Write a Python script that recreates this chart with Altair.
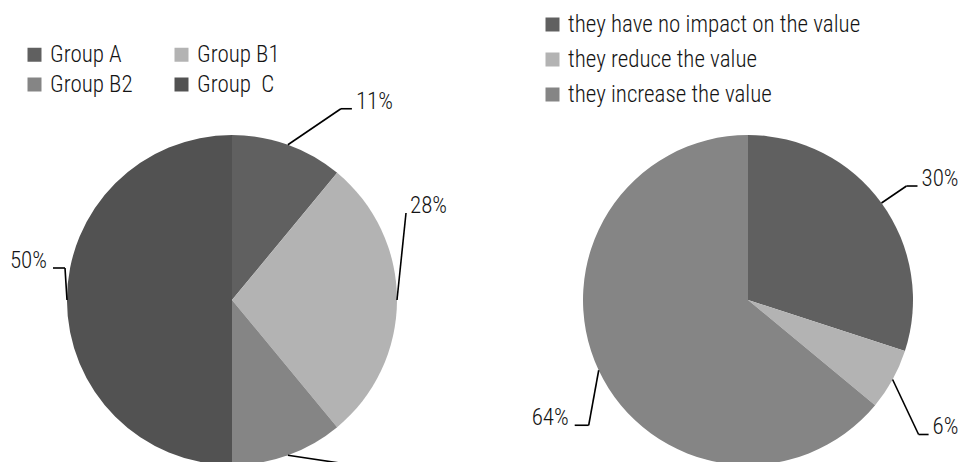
import altair as alt
import pandas as pd

# ---- data -------------------------------------------------------------
left_groups = ["Group A", "Group B1", "Group B2", "Group \u00a0C"]
left_shares = [11, 28, 11, 50]
left_colors = ["#606060", "#b3b3b3", "#858585", "#525252"]
# legend entries fill column by column: A / B2 on the left, B1 / C on the right
left_legend_order = ["Group A", "Group B2", "Group B1", "Group \u00a0C"]

right_groups = [
    "they have no impact on the value",
    "they reduce the value",
    "they increase the value",
]
right_shares = [30, 6, 64]
right_colors = ["#606060", "#b3b3b3", "#858585"]

# ---- callout styling: elbow offset from the slice rim and tail length ----
left_elbow_dx = [53, 9, 200, -2]
left_elbow_dy = [-36, -87, 30, -32]
left_tail = [11, 0, 10, 12]

right_elbow_dx = [25, 26, -10]
right_elbow_dy = [-17, 55, 55]
right_tail = [11, 10, 14]

# ---- layout -------------------------------------------------------------
W, H = 963, 462
R = 165
CY = 300
CX_LEFT, CX_RIGHT = 232, 748
FONT = "Roboto Condensed, Roboto"
FONT_SIZE = 23
TEXT_COLOR = "#141414"


def frame(groups, shares, dx, dy, tail):
    return pd.DataFrame({
        "group": groups,
        "share": shares,
        "idx": list(range(len(groups))),
        "edx": dx,
        "edy": dy,
        "tail": tail,
    })


left_df = frame(left_groups, left_shares, left_elbow_dx, left_elbow_dy, left_tail)
right_df = frame(right_groups, right_shares, right_elbow_dx, right_elbow_dy, right_tail)


def pie(df, cx, domain, colors, legend):
    return alt.Chart(df).mark_arc(outerRadius=R).encode(
        theta=alt.Theta("share:Q", stack=True),
        order=alt.Order("idx:Q"),
        color=alt.Color("group:N",
                        scale=alt.Scale(domain=domain, range=colors),
                        legend=legend),
        x=alt.value(cx),
        y=alt.value(CY),
    )


def callouts(df, cx):
    base = (
        alt.Chart(df)
        .transform_joinaggregate(total="sum(share)")
        .transform_window(cum="sum(share)", sort=[alt.SortField("idx")])
        .transform_calculate(mid="2*PI*(datum.cum - datum.share/2)/datum.total")
        .transform_calculate(
            xr=f"{cx} + {R}*sin(datum.mid)",
            yr=f"{CY} - {R}*cos(datum.mid)",
            side="datum.mid < PI ? 1 : -1",
            label="datum.share + '%'",
        )
        .transform_calculate(xe="datum.xr + datum.edx", ye="datum.yr + datum.edy")
        .transform_calculate(xt="datum.xe + datum.side*datum.tail")
    )
    px = lambda f: alt.X(f, scale=None, axis=None)
    py = lambda f: alt.Y(f, scale=None, axis=None)
    leg1 = base.mark_rule(color="black", strokeWidth=1.6).encode(
        x=px("xr:Q"), y=py("yr:Q"), x2="xe:Q", y2="ye:Q")
    leg2 = base.mark_rule(color="black", strokeWidth=1.6).encode(
        x=px("xe:Q"), y=py("ye:Q"), x2="xt:Q", y2="ye:Q")
    txt_r = base.transform_filter("datum.side > 0").mark_text(
        align="left", baseline="alphabetic", dx=4,
        font=FONT, fontSize=FONT_SIZE, fontWeight=300, color=TEXT_COLOR,
    ).encode(x=px("xt:Q"), y=py("ye:Q"), text="label:N")
    txt_l = base.transform_filter("datum.side < 0").mark_text(
        align="right", baseline="alphabetic", dx=-6,
        font=FONT, fontSize=FONT_SIZE, fontWeight=300, color=TEXT_COLOR,
    ).encode(x=px("xt:Q"), y=py("ye:Q"), text="label:N")
    return [leg1, leg2, txt_r, txt_l]


legend_common = dict(
    orient="none", title=None, symbolType="square", symbolSize=196,
    symbolStrokeWidth=0, labelFont=FONT, labelFontSize=FONT_SIZE,
    labelFontWeight=300, labelColor=TEXT_COLOR, labelOffset=4,
    padding=0, labelLimit=400,
)

left_legend = alt.Legend(legendX=23, legendY=43, columns=2, values=left_legend_order,
                         columnPadding=37, rowPadding=6, **legend_common)
right_legend = alt.Legend(legendX=541, legendY=13, columns=1,
                          rowPadding=11, **legend_common)

chart = alt.layer(
    pie(left_df, CX_LEFT, left_groups, left_colors, left_legend),
    pie(right_df, CX_RIGHT, right_groups, right_colors, right_legend),
    *callouts(left_df, CX_LEFT),
    *callouts(right_df, CX_RIGHT),
).resolve_scale(
    color="independent", theta="independent"
).properties(
    width=W, height=H, autosize=alt.AutoSizeParams(type="none"), padding=0,
    background="white",
).configure_view(stroke=None)

chart.save("out.html", embed_options={"renderer": "svg", "actions": False})
